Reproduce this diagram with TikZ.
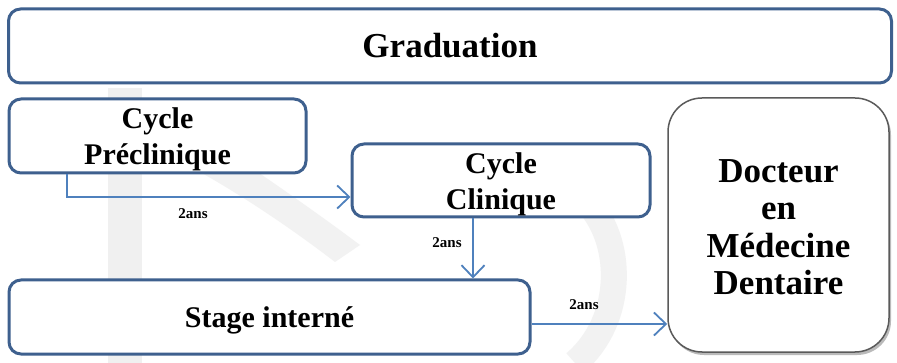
\documentclass[tikz,border=0pt]{standalone}
\usepackage{fontspec}
\setmainfont{Liberation Serif}
\usetikzlibrary{arrows.meta,shadows}
\definecolor{boxblue}{RGB}{62,96,142}
\definecolor{connblue}{RGB}{79,129,189}
\definecolor{docgrey}{RGB}{90,90,90}
\newcommand\lowertext[2][3.5pt]{\raisebox{0pt}[\dimexpr\height+#1\relax][\dimexpr\depth-#1\relax]{\begin{tabular}{@{}c@{}}#2\end{tabular}}}
\tikzset{
  bluebox/.style={draw=boxblue, line width=3pt, rounded corners=12pt, fill=white, inner sep=0pt, align=center, font=\bfseries},
  docbox/.style={draw=docgrey, line width=1.5pt, rounded corners=34pt, fill=white, inner sep=0pt, align=center, font=\bfseries,
    drop shadow={shadow xshift=2pt, shadow yshift=-3pt, opacity=0.45, fill=black!60}},
  conn/.style={draw=connblue, line width=1.8pt, -{Straight Barb[length=12pt,width=23pt]}},
  durlabel/.style={font=\bfseries\fontsize{15}{18}\selectfont, inner sep=0pt}
}
\begin{document}
\begin{tikzpicture}[x=1pt,y=-1pt]
\useasboundingbox (0,0) rectangle (897,363);
\fill[white] (0,0) rectangle (897,363);
% faint background watermark
\fill[black!6] (108,88) rectangle (142,363);
\fill[black!5] (200,172) .. controls (250,200) and (300,235) .. (335,262) -- (360,245) .. controls (320,215) and (270,180) .. (225,150) -- cycle;
\draw[black!5, line width=26pt] (575,363) .. controls (625,320) and (625,240) .. (585,200);
\node[bluebox, minimum width=883pt, minimum height=74pt, font=\bfseries\fontsize{35}{42}\selectfont] (grad) at (450,46) {\lowertext{Graduation}};
\node[bluebox, minimum width=297pt, minimum height=74pt, font=\bfseries\fontsize{30}{36}\selectfont] (pre) at (157.5,136) {\lowertext{Cycle\\Préclinique}};
\node[bluebox, minimum width=298pt, minimum height=73pt, font=\bfseries\fontsize{30}{36}\selectfont] (cli) at (501,180.5) {\lowertext{Cycle\\Clinique}};
\node[bluebox, minimum width=521pt, minimum height=74pt, font=\bfseries\fontsize{30}{36}\selectfont] (stage) at (269.5,317) {\lowertext{Stage interné}};
\node[docbox, minimum width=221pt, minimum height=254pt, font=\bfseries\fontsize{35}{37.5}\selectfont] (doc) at (778.5,225) {\lowertext[6pt]{Docteur\\en\\Médecine\\Dentaire}};
\draw[conn] (pre.south -| 67,0) |- (cli.west |- 0,197);
\draw[conn] (cli.south -| 473,0) -- (stage.north -| 473,0);
\draw[conn] (stage.east |- 0,324) -- (doc.west |- 0,324);
\node[durlabel] (l1) at (193,214) {2ans};
\node[durlabel] (l2) at (447,243) {2ans};
\node[durlabel] (l3) at (584,305) {2ans};
\end{tikzpicture}
\end{document}
